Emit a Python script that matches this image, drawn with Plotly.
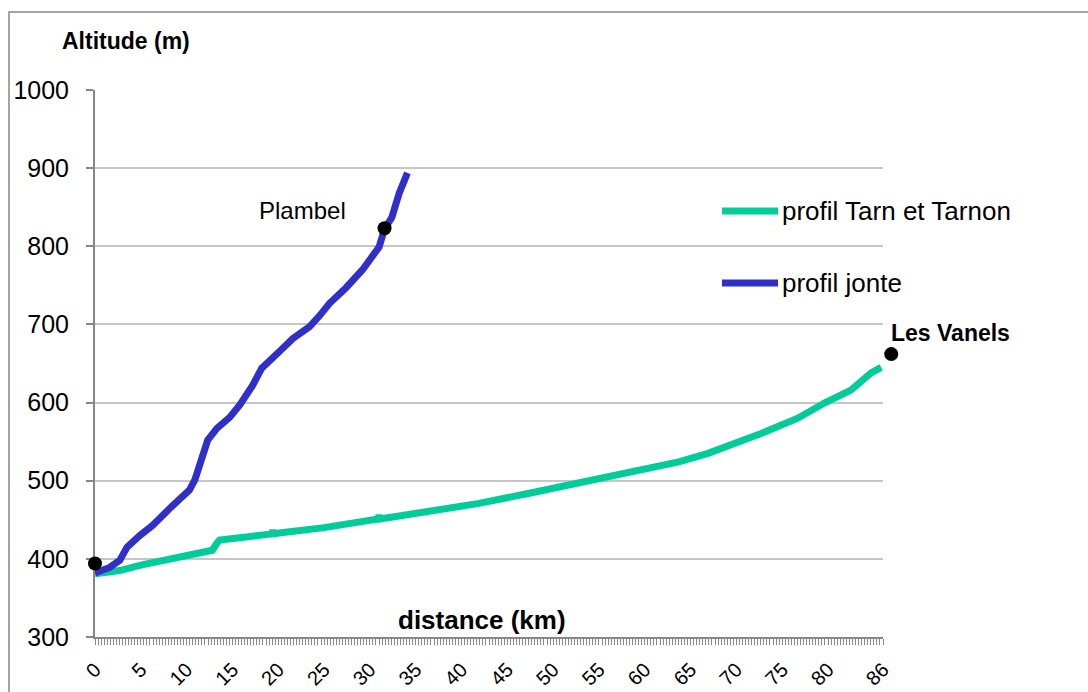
import plotly.graph_objects as go

# Longitudinal river profiles: distance from the confluence (km) vs altitude (m)
tarn_km = [0, 2.7, 5.0, 7.4, 10.0, 12.2, 12.8, 13.3, 13.6, 16.5, 19.3, 19.4, 19.5,
           20.1, 25.0, 30.9, 31.0, 31.1, 36.5, 41.9, 47.4, 52.8, 58.2, 61.5, 63.7,
           66.9, 69.0, 72.4, 76.7, 79.7, 82.5, 84.7, 85.8]
tarn_alt = [381, 385, 392, 398, 403, 409, 411, 420, 424, 428, 432, 437, 432,
            433, 440, 451, 456, 451, 460, 471, 484, 497, 509, 518, 524,
            535, 544, 559, 580, 600, 616, 638, 645]

jonte_km = [0, 1.6, 2.7, 3.5, 4.9, 6.3, 8.2, 9.3, 10.3, 10.9, 11.4, 12.3, 13.3,
            14.7, 15.8, 17.2, 18.2, 19.1, 20.1, 21.6, 23.4, 24.5, 25.6, 27.4,
            29.2, 31.0, 31.6, 32.4, 33.2, 34.1]
jonte_alt = [382, 389, 398, 415, 430, 443, 465, 476, 488, 501, 522, 552, 567,
             581, 597, 622, 644, 655, 665, 682, 697, 711, 727, 747,
             770, 799, 822, 837, 868, 894]

# Named points along the profiles
place_names = ["", "Plambel", "Les Vanels"]
place_km = [0, 31.6, 86.9]
place_alt = [394, 823, 662]

x_ticks = [0, 5, 10, 15, 20, 25, 30, 35, 40, 45, 50, 55, 60, 65, 70, 75, 80, 86]
y_ticks = [300, 400, 500, 600, 700, 800, 900, 1000]

series_names = ["profil Tarn et Tarnon", "profil jonte"]
series_colors = ["#00CC99", "#3030C8"]

W, H = 1088, 692
X0_PX, X86_PX = 95, 883          # pixel span of the 0-86 km axis
OUTER_PX = 915                   # right edge of the marker overlay
ML, MT, MB = X0_PX, 90, 55
MR = W - OUTER_PX
PW, PH = OUTER_PX - ML, H - MT - MB
X_MAX = 86
X2_MAX = X_MAX * PW / (X86_PX - X0_PX)
FONT = "Liberation Sans, Arial, sans-serif"
AXIS_GREY = "#878787"


def px(x):
    return (x - ML) / PW


def py(y):
    return (H - MB - y) / PH


fig = go.Figure()
fig.add_trace(go.Scatter(x=tarn_km, y=tarn_alt, mode="lines", name=series_names[0],
                         line=dict(color=series_colors[0], width=7)))
fig.add_trace(go.Scatter(x=jonte_km, y=jonte_alt, mode="lines", name=series_names[1],
                         line=dict(color=series_colors[1], width=7)))
# Place markers sit on an overlay sharing the same km scale, so the point
# just past the last tick is still shown
fig.add_trace(go.Scatter(x=place_km, y=place_alt, mode="markers", cliponaxis=False,
                         xaxis="x2", yaxis="y2",
                         marker=dict(color="black", size=14)))

annotations = [
    dict(text="<b>Altitude (m)</b>", x=px(126), y=py(41), xref="paper", yref="paper",
         showarrow=False, font=dict(family=FONT, size=23, color="black"),
         xanchor="center", yanchor="middle"),
    dict(text="<b>distance (km)</b>", x=px(482), y=py(620), xref="paper", yref="paper",
         showarrow=False, font=dict(family=FONT, size=26, color="black"),
         xanchor="center", yanchor="middle"),
    dict(text=place_names[1], x=px(302), y=py(210), xref="paper", yref="paper",
         showarrow=False, font=dict(family=FONT, size=24, color="black"),
         xanchor="center", yanchor="middle"),
    dict(text="<b>" + place_names[2] + "</b>", x=px(950), y=py(333), xref="paper",
         yref="paper", showarrow=False, font=dict(family=FONT, size=23, color="black"),
         xanchor="center", yanchor="middle"),
]

shapes = [
    dict(type="rect", xref="paper", yref="paper", x0=px(9), x1=px(1110),
         y0=py(12), y1=py(720), line=dict(color=AXIS_GREY, width=1.5),
         fillcolor="rgba(0,0,0,0)", layer="below"),
]

# Legend drawn as line samples with labels
for i, yy in enumerate([211, 283]):
    shapes.append(dict(type="line", xref="paper", yref="paper", x0=px(722), x1=px(778),
                       y0=py(yy), y1=py(yy),
                       line=dict(color=series_colors[i], width=7)))
    annotations.append(dict(text=series_names[i], x=px(780), y=py(yy), xref="paper",
                            yref="paper", showarrow=False, xanchor="left",
                            yanchor="middle",
                            font=dict(family=FONT, size=26, color="black")))

fig.update_layout(
    width=W, height=H,
    margin=dict(l=ML, r=MR, t=MT, b=MB, autoexpand=False),
    paper_bgcolor="white", plot_bgcolor="rgba(0,0,0,0)",
    font=dict(family=FONT, color="black"),
    showlegend=False,
    annotations=annotations,
    shapes=shapes,
    xaxis=dict(
        domain=[0, (X86_PX - X0_PX) / PW], anchor="y",
        range=[0, X_MAX], tickmode="array", tickvals=x_ticks,
        ticktext=[str(v) for v in x_ticks], tickangle=-45,
        tickfont=dict(family=FONT, size=20, color="black"),
        ticks="outside", ticklen=6, tickwidth=1, tickcolor=AXIS_GREY,
        showline=True, linecolor=AXIS_GREY, linewidth=2,
        showgrid=False, zeroline=False, ticklabelstandoff=5, automargin=False,
        minor=dict(tick0=0, dtick=1 / 3, ticks="outside", ticklen=6,
                   tickwidth=1, tickcolor=AXIS_GREY, showgrid=False),
    ),
    yaxis=dict(
        range=[300, 1000], tickmode="array", tickvals=y_ticks, anchor="x",
        tickfont=dict(family=FONT, size=25, color="black"),
        ticks="outside", ticklen=7, tickwidth=1.5, tickcolor=AXIS_GREY,
        showline=True, linecolor=AXIS_GREY, linewidth=2,
        showgrid=True, gridcolor="#C6C6C6", gridwidth=2,
        zeroline=False, ticklabelstandoff=12, automargin=False,
    ),
    xaxis2=dict(domain=[0, 1], range=[0, X2_MAX], anchor="y2", visible=False,
                showgrid=False, zeroline=False),
    yaxis2=dict(domain=[0, 1], range=[300, 1000], anchor="x2", visible=False,
                showgrid=False, zeroline=False),
)

fig.write_html("out.html")
